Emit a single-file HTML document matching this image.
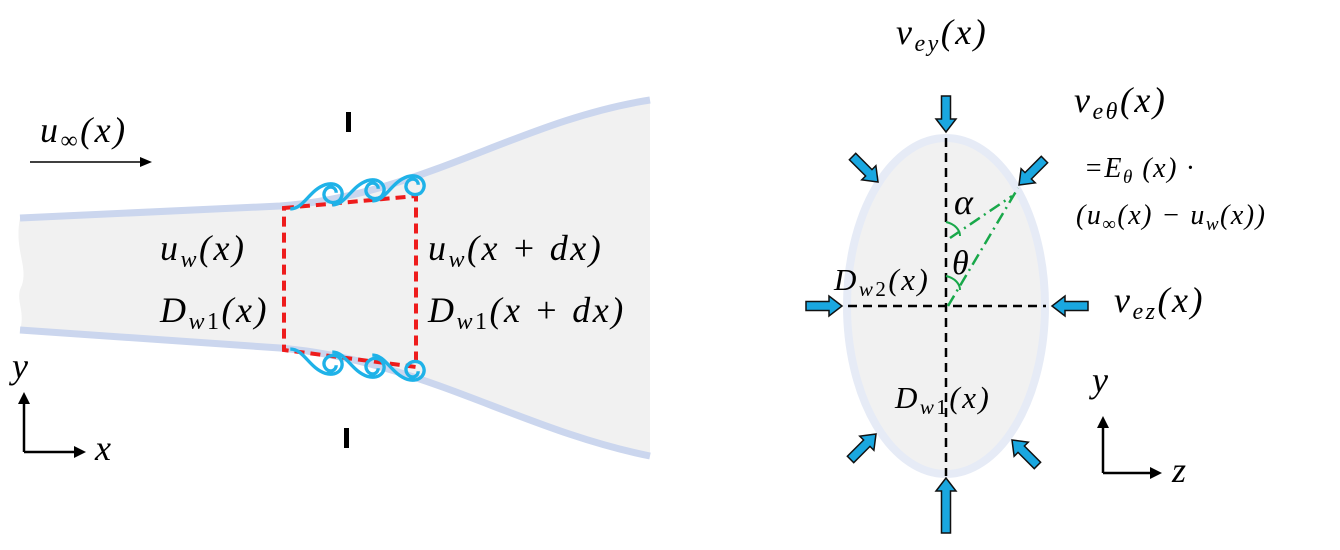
<!DOCTYPE html>
<html><head><meta charset="utf-8"><style>
html,body{margin:0;padding:0;background:#fff;}
svg{display:block;}
text{font-family:"Liberation Serif",serif;font-style:italic;fill:#000;letter-spacing:2.5px;}
</style></head><body>
<svg width="1340" height="550" viewBox="0 0 1340 550" xmlns="http://www.w3.org/2000/svg">
<defs>
<path id="ar" d="M0,0 L-13,-10 L-13,-4.5 L-36,-4.5 L-36,4.5 L-13,4.5 L-13,10 Z" fill="#1aa7e0" stroke="#111" stroke-width="1.5"/>
<path id="arl" d="M0,0 L-13,-10 L-13,-4.5 L-55,-4.5 L-55,4.5 L-13,4.5 L-13,10 Z" fill="#1aa7e0" stroke="#111" stroke-width="1.5"/>
<path id="curl" d="M-22,14 C-12,14 -8,0 4,-4 C14,-7 20,2 14,8 C8,12 0,6 4,0 C7,-4 12,-2 12,2"/>
</defs>
<path d="M20,218 L280,206 C420,196 520,120 650,100 L650,456 C520,430 420,360 280,348 L20,330 C26,310 14,300 22,285 C28,265 14,250 20,218 Z" fill="#f1f1f1"/>
<path d="M20,218 L280,206 C420,196 520,120 650,100" fill="none" stroke="#cbd6ee" stroke-width="7"/>
<path d="M20,330 L280,348 C420,360 520,430 650,456" fill="none" stroke="#cbd6ee" stroke-width="7"/>
<path d="M284,208 L416,196 L416,367 L284,350 Z" fill="none" stroke="#ee1c1c" stroke-width="4" stroke-dasharray="10,6"/>
<g fill="none" stroke="#1fb2e8" stroke-width="2.5">
<use href="#curl" transform="translate(320,190) scale(1.35)"/>
<use href="#curl" transform="translate(362,186) scale(1.35)"/>
<use href="#curl" transform="translate(402,182) scale(1.35)"/>
<use href="#curl" transform="translate(320,368) scale(1.35,-1.35)"/>
<use href="#curl" transform="translate(362,371) scale(1.35,-1.35)"/>
<use href="#curl" transform="translate(402,374) scale(1.35,-1.35)"/>
</g>
<rect x="346" y="112" width="5" height="20" fill="#000"/>
<rect x="344" y="428" width="5" height="20" fill="#000"/>
<line x1="30" y1="162" x2="142" y2="162" stroke="#000" stroke-width="1.5"/>
<path d="M152,162 L140,157 L140,167 Z" fill="#000"/>
<text x="40" y="142" font-size="36">u<tspan font-size="24" dy="6" font-style="normal">∞</tspan><tspan dy="-6">(x)</tspan></text>
<text x="160" y="260" font-size="36">u<tspan font-size="24" dy="7">w</tspan><tspan dy="-7">(x)</tspan></text>
<text x="160" y="322" font-size="36">D<tspan font-size="24" dy="7">w<tspan font-style="normal">1</tspan></tspan><tspan dy="-7">(x)</tspan></text>
<text x="428" y="260" font-size="36">u<tspan font-size="24" dy="7">w</tspan><tspan dy="-7">(x + dx)</tspan></text>
<text x="428" y="322" font-size="36">D<tspan font-size="24" dy="7">w<tspan font-style="normal">1</tspan></tspan><tspan dy="-7">(x + dx)</tspan></text>
<path d="M24,452 L24,400" stroke="#000" stroke-width="2.5"/>
<path d="M24,392 L18,404 L30,404 Z" fill="#000"/>
<path d="M24,452 L76,452" stroke="#000" stroke-width="2.5"/>
<path d="M86,452 L74,446 L74,458 Z" fill="#000"/>
<text x="12" y="378" font-size="36">y</text>
<text x="95" y="460" font-size="36">x</text>
<ellipse cx="946" cy="306" rx="99" ry="168" fill="#f1f1f1" stroke="#e6ebf6" stroke-width="8"/>
<g stroke="#000" stroke-width="2.5" stroke-dasharray="9,6" fill="none">
<line x1="946" y1="138" x2="946" y2="476"/>
<line x1="848" y1="306" x2="1046" y2="306"/>
</g>
<g stroke="#19a84a" stroke-width="2.5" stroke-dasharray="12,5,2,5" fill="none">
<line x1="948" y1="306" x2="1018" y2="188"/>
<line x1="950" y1="238" x2="1012" y2="196"/>
</g>
<path d="M946,222 C955,224 960,230 960,236" fill="none" stroke="#19a84a" stroke-width="2"/>
<path d="M946,276 C955,278 960,284 960,290" fill="none" stroke="#19a84a" stroke-width="2"/>
<use href="#ar" transform="translate(946,132) rotate(90)"/>
<use href="#arl" transform="translate(946,478) rotate(-90)"/>
<use href="#ar" transform="translate(842,306)"/>
<use href="#ar" transform="translate(1052,306) rotate(180)"/>
<use href="#ar" transform="translate(878,182) rotate(45)"/>
<use href="#ar" transform="translate(1019,185) rotate(135)"/>
<use href="#ar" transform="translate(876,434) rotate(-45)"/>
<use href="#ar" transform="translate(1012,440) rotate(-135)"/>
<text x="896" y="44" font-size="36">v<tspan font-size="24" dy="7">ey</tspan><tspan dy="-7">(x)</tspan></text>
<text x="1074" y="112" font-size="36">v<tspan font-size="24" dy="7">eθ</tspan><tspan dy="-7">(x)</tspan></text>
<text x="1084" y="177" font-size="28" font-style="normal" style="letter-spacing:1.5px">=<tspan font-style="italic">E<tspan font-size="19" dy="6">θ</tspan><tspan dy="-6"> (x) </tspan></tspan>·</text>
<text x="1076" y="224" font-size="28" style="letter-spacing:1.5px">(u<tspan font-size="19" dy="6" font-style="normal">∞</tspan><tspan dy="-6">(x) − u</tspan><tspan font-size="19" dy="6">w</tspan><tspan dy="-6">(x))</tspan></text>
<text x="1114" y="312" font-size="36">v<tspan font-size="24" dy="7">ez</tspan><tspan dy="-7">(x)</tspan></text>
<text x="954" y="214" font-size="36">α</text>
<text x="952" y="274" font-size="34">θ</text>
<text x="834" y="290" font-size="31">D<tspan font-size="21" dy="6">w<tspan font-style="normal">2</tspan></tspan><tspan dy="-6">(x)</tspan></text>
<text x="895" y="408" font-size="31">D<tspan font-size="21" dy="6">w<tspan font-style="normal">1</tspan></tspan><tspan dy="-6">(x)</tspan></text>
<path d="M1103,473 L1103,425" stroke="#000" stroke-width="2.5"/>
<path d="M1103,416 L1097,428 L1109,428 Z" fill="#000"/>
<path d="M1103,473 L1152,473" stroke="#000" stroke-width="2.5"/>
<path d="M1162,473 L1150,467 L1150,479 Z" fill="#000"/>
<text x="1092" y="392" font-size="36">y</text>
<text x="1172" y="482" font-size="36">z</text>
</svg>
</body></html>
